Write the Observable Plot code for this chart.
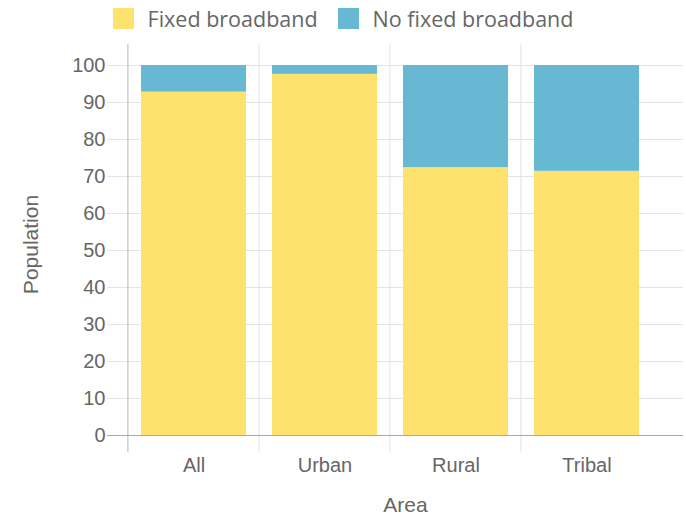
<!DOCTYPE html>
<html>
<head>
<meta charset="utf-8">
<script src="https://cdn.jsdelivr.net/npm/d3@7"></script>
<script src="https://cdn.jsdelivr.net/npm/@observablehq/plot@0.6"></script>
<style>
  html, body { margin: 0; padding: 0; background: #fff; }
  #legend { height: 36px; display: flex; justify-content: center; align-items: center; font-family: "Open Sans", sans-serif; font-size: 21.5px; color: #666; }
  .item { display: flex; align-items: center; margin: 0 10px; }
  .sw { width: 21px; height: 21px; margin-right: 14px; }
  svg { display: block; }
</style>
</head>
<body>
<div id="legend"></div>
<div id="chart"></div>
<script>
const areas = ["All", "Urban", "Rural", "Tribal"];
const seriesNames = ["Fixed broadband", "No fixed broadband"];
const fixedBroadband = [92.8, 97.6, 72.4, 71.4];
const noFixedBroadband = [7.2, 2.4, 27.6, 28.6];
const seriesColors = ["#fde36e", "#67b8d3"];
const yTicks = [0, 10, 20, 30, 40, 50, 60, 70, 80, 90, 100];

const rows = [];
areas.forEach((a, i) => {
  rows.push({area: a, series: seriesNames[0], value: fixedBroadband[i]});
  rows.push({area: a, series: seriesNames[1], value: noFixedBroadband[i]});
});

// legend
const legend = d3.select("#legend");
seriesNames.forEach((s, i) => {
  const it = legend.append("div").attr("class", "item");
  it.append("div").attr("class", "sw").style("background", seriesColors[i]);
  it.append("span").text(s);
});

const W = 686, H = 479;
const bandLines = (index, scales, values, dims) => {
  const x = scales.x, y = scales.y;
  const g = d3.create("svg:g");
  const top = y(100) - 21, bottom = y(0) + 17;
  areas.forEach((a, i) => {
    const bx = x(a) - x.paddingInner() * x.step() / 2;
    g.append("line")
      .attr("x1", bx).attr("x2", bx)
      .attr("y1", top).attr("y2", bottom)
      .attr("stroke", i === 0 ? "#b5b5b5" : "#e2e2e2")
      .attr("stroke-width", 1);
  });
  return g.node();
};

const FONT = "'Liberation Sans', Arial, sans-serif";
const chart = Plot.plot({
  width: W,
  height: H,
  marginTop: 29,
  marginBottom: 80,
  marginLeft: 107,
  marginRight: 3,
  style: {fontFamily: FONT, fontSize: "20px", color: "#666", background: "#fff"},
  x: {domain: areas, range: [127, 653], paddingInner: 0.2, paddingOuter: 0.1, align: 0.5, label: null, tickSize: 0, tickPadding: 22},
  y: {domain: [0, 100], ticks: yTicks, label: null, tickSize: 0, tickPadding: 2, tickFormat: d => String(d)},
  color: {domain: seriesNames, range: seriesColors},
  marks: [
    Plot.ruleY(yTicks.filter(d => d !== 0), {stroke: "#e4e4e4", strokeOpacity: 1}),
    bandLines,
    Plot.barY(rows, {x: "area", y: "value", fill: "series"}),
    Plot.ruleY([0], {stroke: "#a8a8a8", strokeOpacity: 1}),
    Plot.text(["Population"], {frameAnchor: "left", textAnchor: "middle", dx: -76, dy: -6, rotate: -90, fontSize: 21, fill: "#666", fontFamily: FONT}),
    Plot.text(["Area"], {frameAnchor: "bottom", dx: 10, dy: 76, fontSize: 21, fill: "#666", fontFamily: FONT})
  ]
});
document.getElementById("chart").appendChild(chart);
</script>
</body>
</html>
